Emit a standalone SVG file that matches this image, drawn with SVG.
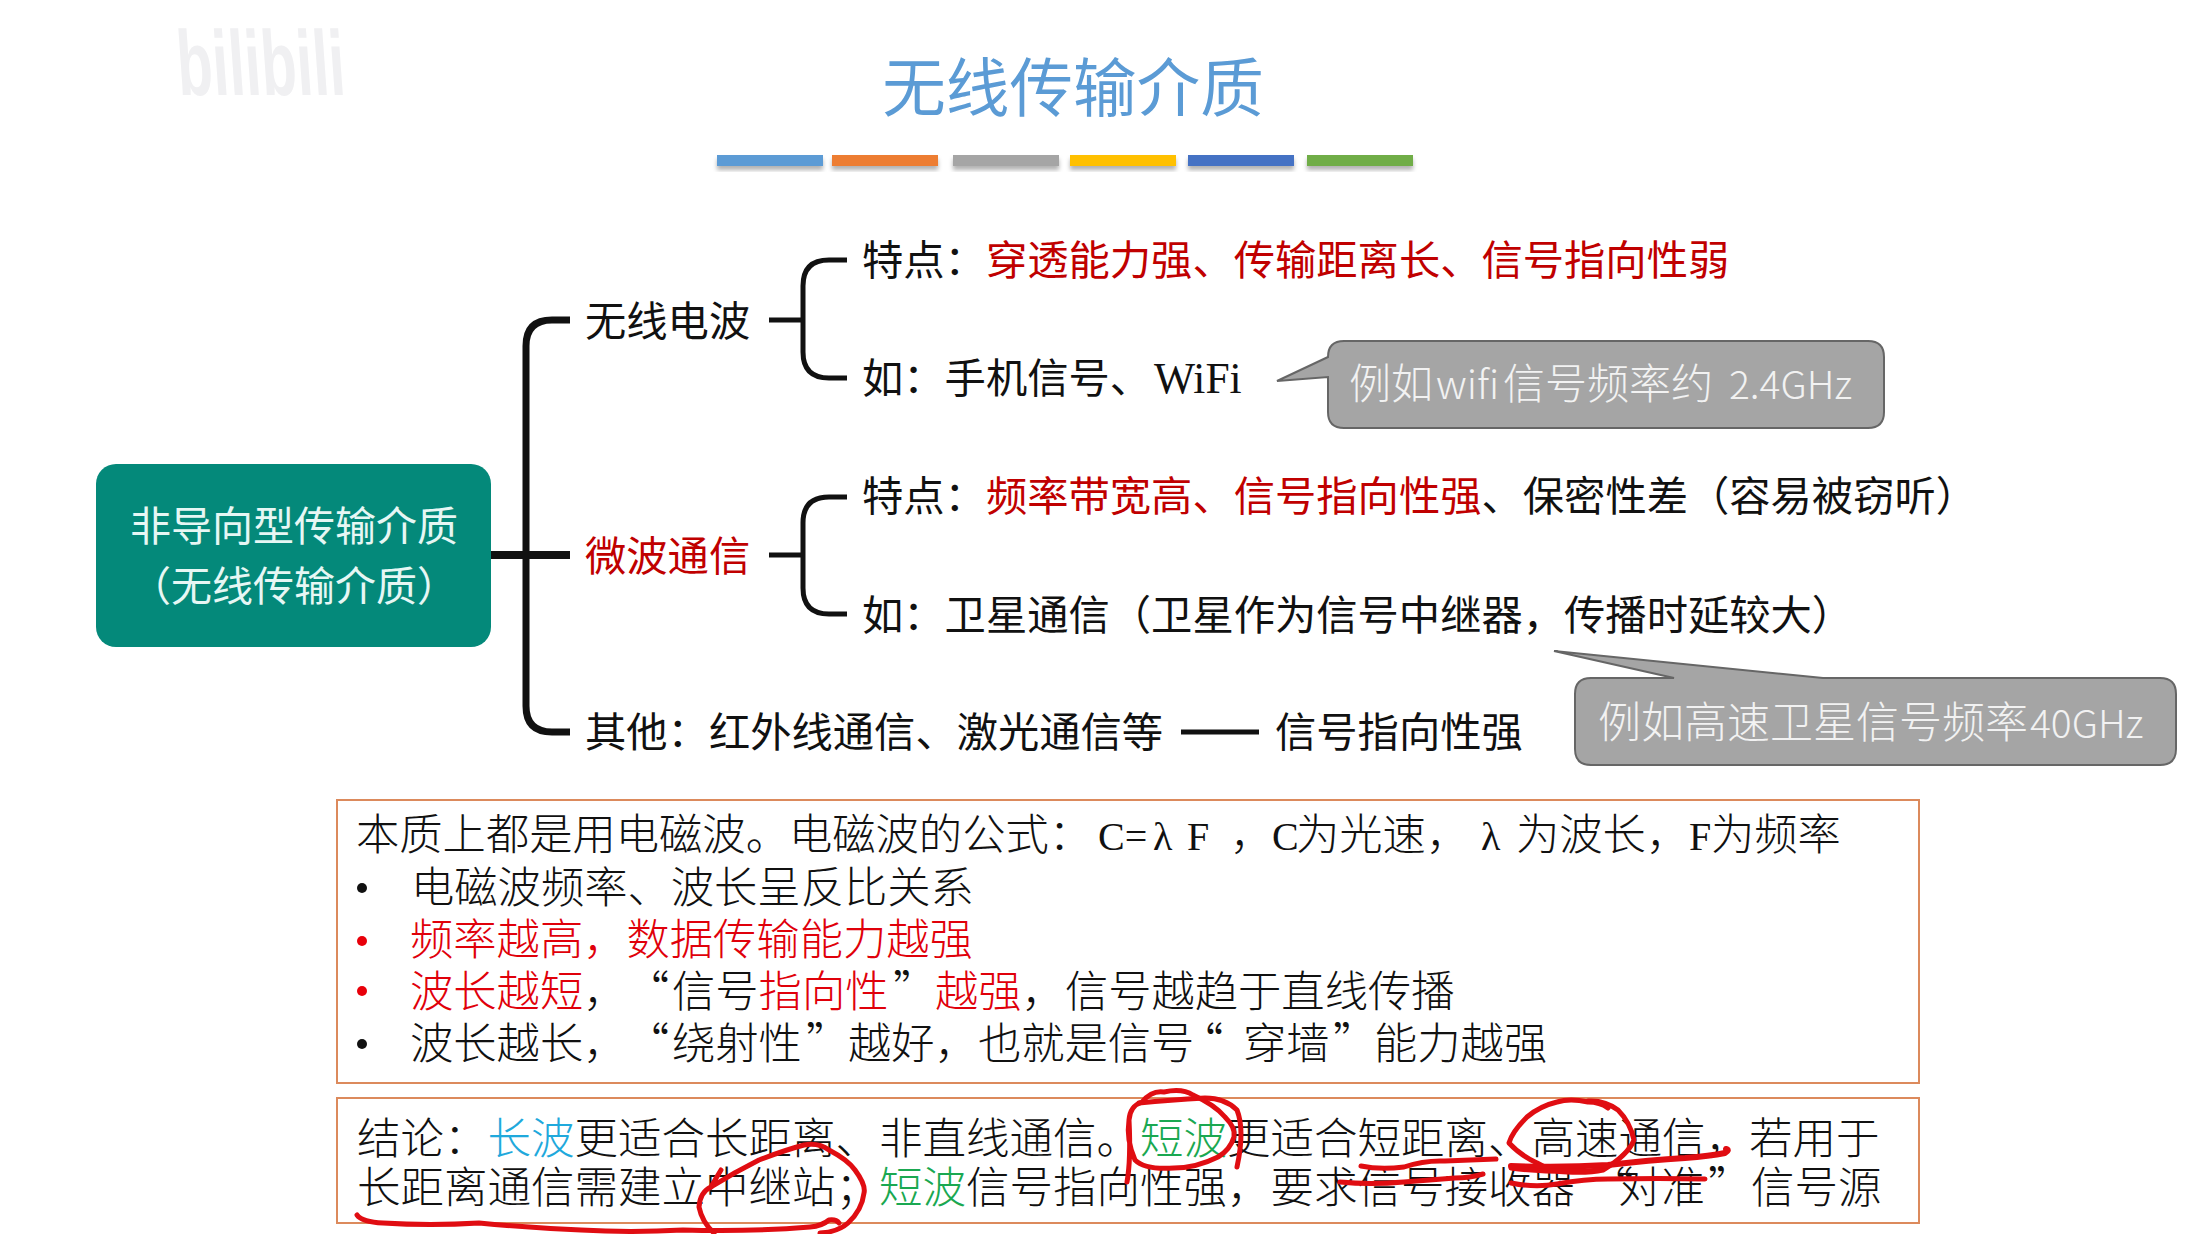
<svg xmlns="http://www.w3.org/2000/svg" width="2202" height="1234" viewBox="0 0 2202 1234">
<defs><filter id="sh" x="-5%" y="-30%" width="110%" height="180%"><feDropShadow dx="0" dy="4" stdDeviation="2" flood-color="#000" flood-opacity="0.3"/></filter></defs>
<style>
text{font-family:"Noto Sans CJK SC","Noto Sans",sans-serif;}
.t{font-size:41.3px;fill:#111;}
.r{fill:#c00000;}
.b{font-size:43.3px;fill:#111;font-weight:300;}
.bb{font-size:43.5px;fill:#111;font-weight:300;}
.hr{fill:#e0000a;}
.s{font-family:"Liberation Serif",serif;font-size:40px;}
.link{fill:none;stroke:#111;stroke-linecap:butt;}
.ink{fill:none;stroke:#e00d12;stroke-width:5;stroke-linecap:round;stroke-linejoin:round;}
.box{fill:none;stroke:#dc8a5c;stroke-width:2;}
.call{fill:#a5a5a5;stroke:#666;stroke-width:2;}
.ct{font-size:42px;fill:#f2f2f2;font-weight:300;}
.bar{filter:url(#sh);}
</style>
<text x="1073" y="111" font-size="63.6" fill="#5b9bd5" text-anchor="middle" id="title">无线传输介质</text>
<text transform="translate(179 95) skewX(4)" x="0" y="0" font-size="92" fill="#f0f0f2" font-weight="700" style="font-family:'Liberation Sans',sans-serif" textLength="168" lengthAdjust="spacingAndGlyphs">bilibili</text>
<g id="bars">
<rect class="bar" x="717" y="155" width="106" height="11" fill="#5b9bd5"/>
<rect class="bar" x="832" y="155" width="106" height="11" fill="#ed7d31"/>
<rect class="bar" x="953" y="155" width="106" height="11" fill="#a5a5a5"/>
<rect class="bar" x="1070" y="155" width="106" height="11" fill="#ffc000"/>
<rect class="bar" x="1188" y="155" width="106" height="11" fill="#4472c4"/>
<rect class="bar" x="1307" y="155" width="106" height="11" fill="#70ad47"/>
</g>
<g id="connectors">
<path class="link" stroke-width="7" d="M570 320H552Q526 320 526 346V706Q526 732 552 732H570"/>
<path class="link" stroke-width="8" d="M491 555H570"/>
<path class="link" stroke-width="5" d="M769 320H803M847 260H829Q803 260 803 286V352Q803 378 829 378H847"/>
<path class="link" stroke-width="5" d="M769 555H803M847 497H829Q803 497 803 523V588Q803 614 829 614H847"/>
<path class="link" stroke-width="5" d="M1181 732H1259"/>
</g>
<g id="root"><rect x="96" y="464" width="395" height="183" rx="20" fill="#04897a"/>
<text x="294" y="541" font-size="41" fill="#e6f7f4" text-anchor="middle">非导向型传输介质</text>
<text x="294" y="601" font-size="41" fill="#e6f7f4" text-anchor="middle">（无线传输介质）</text></g>
<g id="n1"><text class="t" x="585" y="335.5">无线电波</text></g>
<g id="n2"><text class="t r" x="585" y="571">微波通信</text></g>
<g id="n3"><text class="t" x="585" y="747">其他：红外线通信、激光通信等</text></g>
<g id="n4"><text class="t" x="1275" y="747">信号指向性强</text></g>
<g id="n5"><text class="t" x="862" y="275">特点：<tspan class="r">穿透能力强、传输距离长、信号指向性弱</tspan></text></g>
<g id="n6"><text class="t" x="862" y="393">如：手机信号、<tspan x="1154" style="font-family:'Liberation Serif',serif;font-size:43.5px">WiFi</tspan></text></g>
<g id="n7"><text class="t" x="862" y="511">特点：<tspan class="r">频率带宽高、信号指向性强</tspan>、保密性差（容易被窃听）</text></g>
<g id="n8"><text class="t" x="862" y="630">如：卫星通信（卫星作为信号中继器，传播时延较大）</text></g>
<g id="c1"><path class="call" d="M1344 341H1868Q1884 341 1884 357V412Q1884 428 1868 428H1344Q1328 428 1328 412V377L1277 381L1328 357Q1328 341 1344 341Z"/>
<text class="ct" x="1349" y="399">例如<tspan x="1436" font-size="40">wifi</tspan><tspan x="1503">信号频率约</tspan><tspan x="1729" font-size="39">2.4GHz</tspan></text></g>
<g id="c2"><path class="call" d="M1591 678H1674L1554 651L1823 678H2160Q2176 678 2176 694V749Q2176 765 2160 765H1591Q1575 765 1575 749V694Q1575 678 1591 678Z"/>
<text class="ct" x="1598" y="738" style="font-size:43px">例如高速卫星信号频率<tspan x="2030" font-size="39">40GHz</tspan></text></g>
<g id="box1"><rect class="box" x="337" y="800" width="1582" height="283"/>
<text class="b" x="356" y="850">本质上都是用电磁波。电磁波的公式：<tspan class="s" x="1098">C=</tspan><tspan class="s" x="1153">λ</tspan><tspan class="s" x="1187">F</tspan><tspan x="1230">，</tspan><tspan class="s" x="1272">C</tspan><tspan x="1296">为光速，</tspan><tspan class="s" x="1481">λ</tspan><tspan x="1516">为波长，</tspan><tspan class="s" x="1689">F</tspan><tspan x="1711">为频率</tspan></text>
<circle cx="362" cy="888" r="5" fill="#111"/>
<text class="b" x="411" y="903">电磁波频率、波长呈反比关系</text>
<circle cx="362" cy="941" r="5" fill="#e8000a"/>
<text class="b hr" x="410" y="955" style="fill:#e0000a">频率越高，数据传输能力越强</text>
<circle cx="362" cy="991" r="5" fill="#e8000a"/>
<text class="b" x="410" y="1007"><tspan class="hr">波长越短</tspan>，<tspan x="626">“</tspan><tspan x="672">信号</tspan><tspan class="hr">指向性</tspan><tspan x="893">”</tspan><tspan class="hr" x="935">越强</tspan>，信号越趋于直线传播</text>
<circle cx="362" cy="1044" r="5" fill="#111"/>
<text class="b" x="410" y="1059">波长越长，<tspan x="626">“</tspan><tspan x="672">绕射性</tspan><tspan x="806">”</tspan><tspan x="848">越好，也就是信号</tspan><tspan x="1180">“</tspan><tspan x="1243">穿墙</tspan><tspan x="1333">”</tspan><tspan x="1374">能力越强</tspan></text></g>
<g id="box2"><rect class="box" x="337" y="1098" width="1582" height="125"/>
<text class="bb" x="357" y="1154">结论：<tspan style="fill:#1fa9dc">长波</tspan>更适合长距离、非直线通信。<tspan style="fill:#1aa851">短波</tspan>更适合短距离、高速通信，若用于</text>
<text class="bb" x="357" y="1203">长距离通信需建立中继站；<tspan style="fill:#1aa851">短波</tspan>信号指向性强，要求信号接收器<tspan x="1590">“</tspan><tspan x="1618">对准</tspan><tspan x="1708">”</tspan><tspan x="1751">信号源</tspan></text></g>
<g id="ink">
<path class="ink" d="M1127 1182Q1131 1160 1129 1120Q1130 1106 1142 1102Q1152 1090 1164 1092Q1182 1088 1193 1095Q1215 1105 1225 1117Q1236 1128 1234 1137Q1230 1150 1218 1157Q1196 1168 1174 1168Q1145 1170 1135 1160Q1126 1140 1129 1120"/>
<path class="ink" d="M1237 1167Q1245 1130 1237 1110Q1225 1098 1205 1098Q1170 1100 1139 1103"/>
<path class="ink" d="M711 1187Q716 1178 721 1170M711 1187Q735 1172 759 1160Q785 1150 804 1145Q818 1142 829 1150Q848 1160 855 1170Q866 1185 864 1193Q862 1210 848 1223Q838 1232 820 1233"/>
<path class="ink" d="M711 1187Q700 1192 699 1207Q702 1222 714 1233"/>
<path class="ink" d="M357 1215Q362 1222 383 1223Q430 1226 479 1223Q530 1228 581 1230Q630 1233 683 1230Q750 1232 810 1227Q822 1226 829 1220Q836 1219 839 1223"/>
<path class="ink" d="M1608 1108Q1600 1102 1588 1102Q1570 1098 1557 1102Q1540 1106 1527 1117Q1512 1132 1509 1143Q1520 1155 1537 1163Q1552 1172 1567 1172Q1590 1173 1603 1170Q1628 1155 1634 1140Q1630 1122 1618 1110Q1605 1100 1588 1101"/>
<path class="ink" style="stroke-width:6" d="M1511 1166Q1560 1168 1608 1165Q1650 1160 1685 1158Q1710 1156 1725 1153Q1730 1150 1726 1149"/>
<path class="ink" d="M1511 1168Q1560 1174 1600 1170"/>
<path class="ink" d="M1361 1166Q1380 1170 1404 1167Q1425 1160 1445 1161Q1470 1160 1496 1159"/>
<path class="ink" d="M1340 1182Q1370 1185 1404 1182Q1430 1180 1455 1178Q1470 1178 1483 1174"/>
<path class="ink" d="M1511 1183Q1535 1188 1557 1184Q1585 1179 1608 1179Q1660 1178 1705 1179"/>
</g>
</svg>
